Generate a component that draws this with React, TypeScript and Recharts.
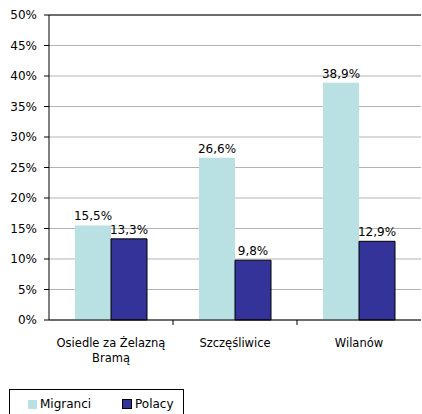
import { BarChart, Bar, XAxis, YAxis, CartesianGrid, LabelList, ReferenceLine, Text } from "recharts";

const districts = ["Osiedle za Żelazną Bramą", "Szczęśliwice", "Wilanów"];
const migranci = [15.5, 26.6, 38.9];
const polacy = [13.3, 9.8, 12.9];
const yTicks = [0, 5, 10, 15, 20, 25, 30, 35, 40, 45, 50];

const FONT = "'DejaVu Sans', Verdana, sans-serif";

const data = districts.map((name, i) => ({
  name,
  migranci: migranci[i],
  polacy: polacy[i],
}));

const pct = (v: any) => `${Number(v).toFixed(1).replace(".", ",")}%`;

// category ticks sit between the groups, like the spreadsheet original
function CategoryTick(props: any) {
  const { x, y, payload, index } = props;
  const half = payload?.offset ?? 62;
  return (
    <g>
      {index > 0 && <line x1={x - half} x2={x - half} y1={y - 8} y2={y - 3} stroke="#000" />}
      <Text
        x={x}
        y={y + 11}
        width={122}
        lineHeight={15}
        textAnchor="middle"
        verticalAnchor="start"
        fontSize={11.5}
        fontFamily={FONT}
        fill="#000"
      >
        {payload.value}
      </Text>
    </g>
  );
}

export default function App() {
  return (
    <div style={{ position: "relative", width: 422, height: 414, background: "#fff", fontFamily: FONT }}>
      <style>{`body{margin:0}`}</style>
      <BarChart
        width={422}
        height={380}
        data={data}
        margin={{ top: 15, right: 1, left: 0, bottom: 0 }}
        barCategoryGap={26}
        barGap={0}
      >
        <CartesianGrid vertical={false} stroke="#b3b3b3" />
        <XAxis
          dataKey="name"
          axisLine={{ stroke: "#000" }}
          tickLine={false}
          tick={<CategoryTick />}
          interval={0}
          height={60}
        />
        <YAxis
          domain={[0, 50]}
          ticks={yTicks}
          width={49}
          axisLine={{ stroke: "#000" }}
          tickLine={{ stroke: "#000" }}
          tickSize={5}
          tickMargin={7}
          tickFormatter={(v) => `${v}%`}
          tick={{ fill: "#000", fontSize: 12, fontFamily: FONT }}
        />
        <ReferenceLine y={50} stroke="#000" />
        <Bar dataKey="migranci" fill="#b9e0e2" isAnimationActive={false}>
          <LabelList dataKey="migranci" position="top" formatter={pct} fill="#000" fontSize={12} fontFamily={FONT} />
        </Bar>
        <Bar dataKey="polacy" fill="#333399" stroke="#000" strokeWidth={1} isAnimationActive={false}>
          <LabelList dataKey="polacy" position="top" formatter={pct} fill="#000" fontSize={12} fontFamily={FONT} />
        </Bar>
      </BarChart>
      <div
        style={{
          position: "absolute",
          left: 9,
          top: 389,
          width: 175,
          height: 30,
          border: "1px solid #000",
          fontSize: 12,
          color: "#000",
          boxSizing: "border-box",
        }}
      >
        <div style={{ position: "absolute", left: 18, top: 7, display: "flex", alignItems: "center" }}>
          <span style={{ width: 9, height: 9, background: "#b9e0e2", display: "inline-block", marginRight: 3 }} />
          Migranci
        </div>
        <div style={{ position: "absolute", left: 112, top: 7, display: "flex", alignItems: "center" }}>
          <span
            style={{
              width: 8,
              height: 8,
              background: "#333399",
              border: "1px solid #000",
              display: "inline-block",
              marginRight: 3,
            }}
          />
          Polacy
        </div>
      </div>
    </div>
  );
}
